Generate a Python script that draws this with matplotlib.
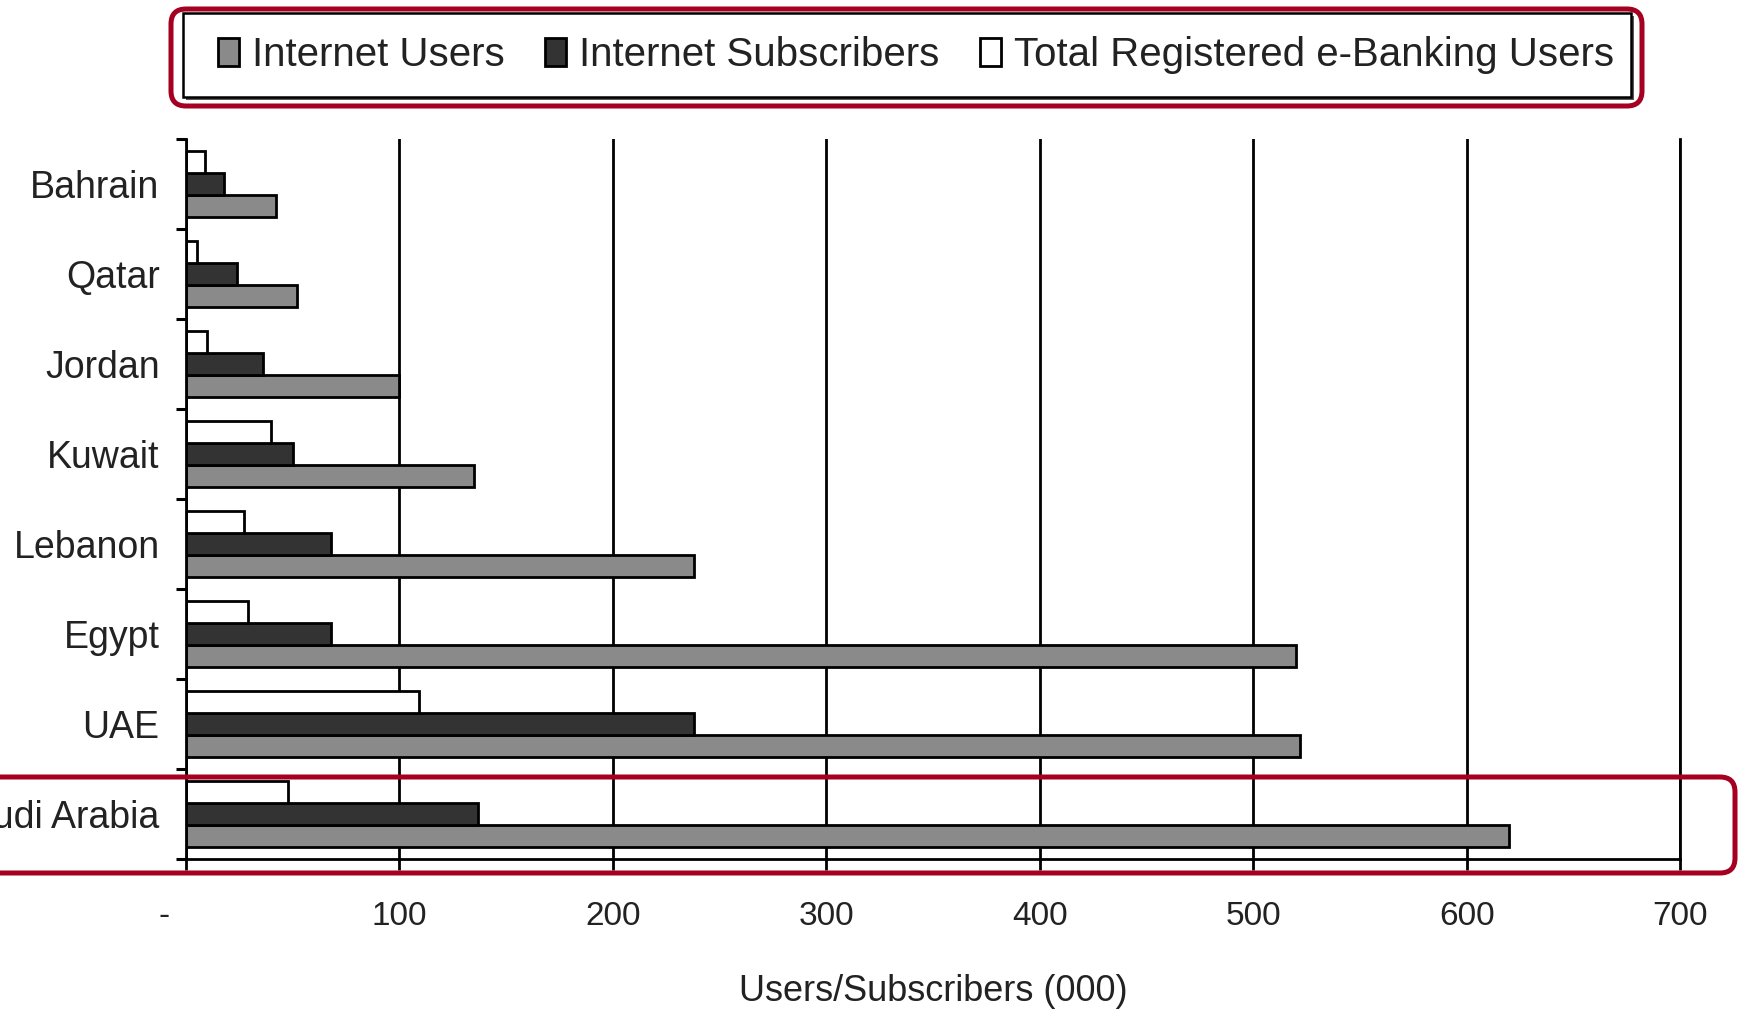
import matplotlib

matplotlib.use("Agg")
import matplotlib.pyplot as plt
from matplotlib import font_manager
from matplotlib.patches import FancyBboxPatch, Rectangle
from matplotlib.transforms import ScaledTranslation
import numpy as np

paises = ["Bahrain", "Qatar", "Jordan", "Kuwait", "Lebanon", "Egypt", "UAE", "Saudi Arabia"]
internet_users = [42, 52, 100, 135, 238, 520, 522, 620]
internet_subscribers = [18, 24, 36, 50, 68, 68, 238, 137]
ebanking_users = [9, 5, 10, 40, 27, 29, 109, 48]
xticks = [0, 100, 200, 300, 400, 500, 600, 700]
xticklabels = ["-", "100", "200", "300", "400", "500", "600", "700"]
series_labels = ["Internet Users", "Internet Subscribers", "Total Registered e-Banking Users"]

# fonte estreita se existir
nomes_fontes = {f.name for f in font_manager.fontManager.ttflist}
if "Liberation Sans Narrow" in nomes_fontes:
    plt.rcParams["font.family"] = ["Liberation Sans Narrow", "DejaVu Sans"]
    tam = 33
else:
    plt.rcParams["font.family"] = ["Liberation Sans", "DejaVu Sans"]
    tam = 27

texto_cor = "#222222"
W, H = 1740, 1011

fig = plt.figure(figsize=(W / 100, H / 100), dpi=100)
ax = fig.add_axes([186 / W, 1 - 859 / H, (1680 - 186) / W, (859 - 139) / H])

y = np.arange(len(paises))
h = 0.245
lw = 2.0
b1 = ax.barh(y + h, internet_users, height=h, color="#8a8a8a", edgecolor="black", linewidth=lw)
b2 = ax.barh(y, internet_subscribers, height=h, color="#333333", edgecolor="black", linewidth=lw)
b3 = ax.barh(y - h, ebanking_users, height=h, color="white", edgecolor="black", linewidth=lw)

ax.set_xlim(0, 700)
ax.set_ylim(len(paises) - 0.5, -0.5)

ax.set_yticks(y, paises)
ax.set_yticks(np.arange(-0.5, len(paises), 1), minor=True)
ax.tick_params(axis="y", which="major", length=0, pad=19, labelsize=tam, labelcolor=texto_cor)
ax.tick_params(axis="y", which="minor", length=7, width=2.2, direction="out")

ax.set_xticks(xticks, xticklabels)
ax.tick_params(axis="x", length=8, width=2, direction="out", pad=22, labelsize=tam - 3,
               labelcolor=texto_cor)

ax.grid(axis="x", color="black", linewidth=2)
ax.set_axisbelow(True)

ax.spines["top"].set_visible(False)
for lado in ["left", "bottom", "right"]:
    ax.spines[lado].set_linewidth(2)
    ax.spines[lado].set_color("black")

ax.set_xlabel("Users/Subscribers (000)", fontsize=tam - 1, color=texto_cor)
ax.xaxis.set_label_coords(0.5, -0.16)
ax.xaxis.label.set_verticalalignment("top")

# o "-" do zero fica um pouco à esquerda
traco = ax.get_xticklabels()[0]
traco.set_transform(traco.get_transform() + ScaledTranslation(-0.22, 0, fig.dpi_scale_trans))

# moldura da legenda com sombra
sombra = Rectangle((186 / 100, (H - 100) / 100), 14.48, 0.84, transform=fig.dpi_scale_trans,
                   facecolor="0.35", edgecolor="none")
moldura = Rectangle((183 / 100, (H - 97) / 100), 14.48, 0.84, transform=fig.dpi_scale_trans,
                    facecolor="white", edgecolor="black", linewidth=1.8)
fig.patches.extend([sombra, moldura])

leg = fig.legend([b1, b2, b3], series_labels, loc="center", bbox_to_anchor=(916 / W, 1 - 55 / H),
                 ncol=3, fontsize=tam + 2, frameon=False, handlelength=0.52, handleheight=0.7,
                 handletextpad=0.33, columnspacing=1.0, borderpad=0.3, labelcolor=texto_cor)

# destaques vermelhos
vermelho = "#a50021"
caixa1 = FancyBboxPatch((1.71, (H - 106) / 100), 14.71, 0.97,
                        boxstyle="round,pad=0,rounding_size=0.15",
                        transform=fig.dpi_scale_trans, fill=False, edgecolor=vermelho, linewidth=3.6)
caixa2 = FancyBboxPatch((-0.3, (H - 873) / 100), 17.65, 0.96,
                        boxstyle="round,pad=0,rounding_size=0.15",
                        transform=fig.dpi_scale_trans, fill=False, edgecolor=vermelho, linewidth=3.6)
fig.patches.extend([caixa1, caixa2])

fig.savefig("out.png", dpi=100)
plt.close(fig)
